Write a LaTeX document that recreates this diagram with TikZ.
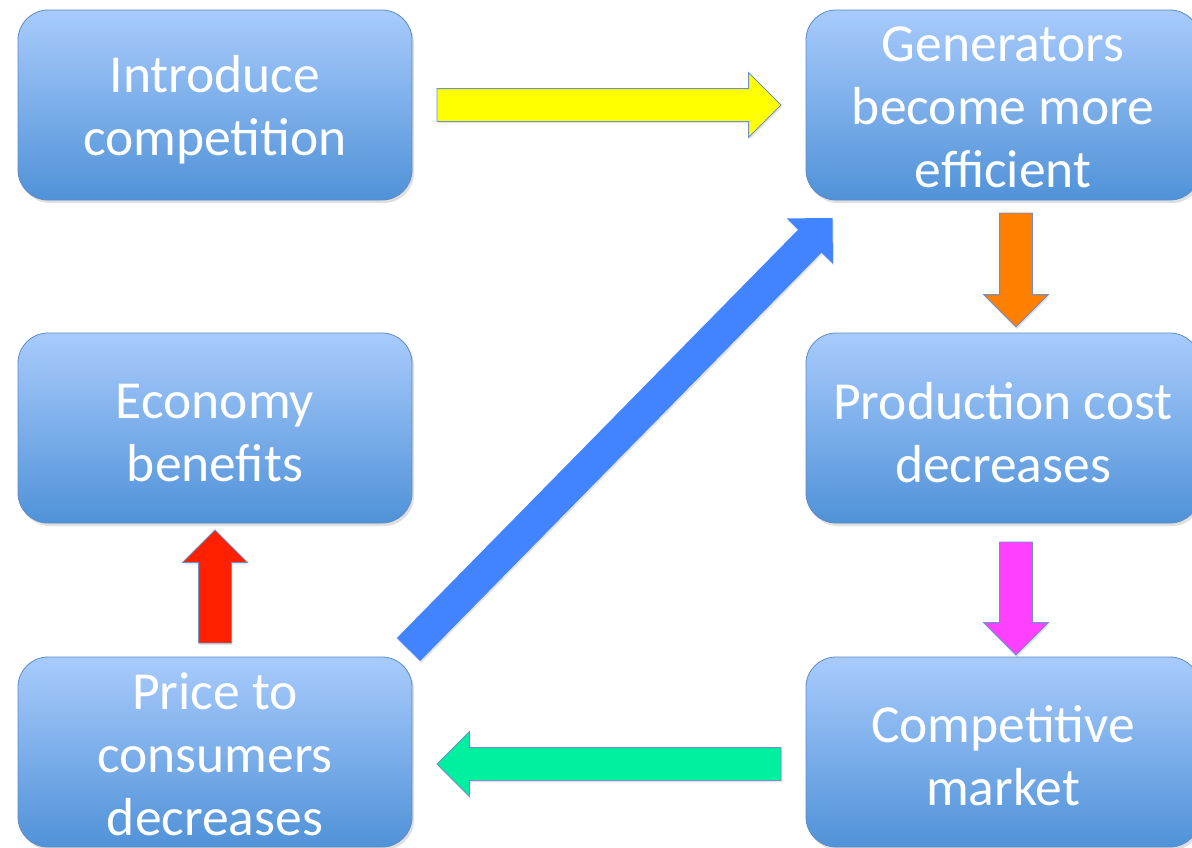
\documentclass[tikz,border=0pt]{standalone}
\usepackage{fontspec}
\setmainfont{Carlito}
\usetikzlibrary{shapes.arrows,shadows,calc}
\definecolor{boxtop}{RGB}{168,203,252}
\definecolor{boxbot}{RGB}{80,146,216}
\definecolor{boxline}{RGB}{94,139,200}
\definecolor{arrline}{RGB}{110,145,205}
\definecolor{ayellow}{RGB}{255,255,0}
\definecolor{aorange}{RGB}{255,127,0}
\definecolor{amagenta}{RGB}{255,64,255}
\definecolor{agreen}{RGB}{0,240,160}
\definecolor{ared}{RGB}{255,32,0}
\definecolor{ablue}{RGB}{66,131,255}
\begin{document}
\begin{tikzpicture}[x=1pt,y=-1pt,
  stepbox/.style={rounded corners=30pt, minimum width=394pt, minimum height=190pt,
    top color=boxtop, bottom color=boxbot, draw=boxline, line width=0.8pt,
    inner sep=0pt, outer sep=0pt,
    drop shadow={opacity=0.25, shadow xshift=2pt, shadow yshift=-3pt}},
  boxtext/.style={text=white, align=center, font=\fontsize{53.5}{63}\selectfont, inner sep=0pt},
  blockarrow/.style={single arrow, single arrow head extend=16pt, single arrow tip angle=90,
    single arrow head indent=0pt, inner xsep=0pt, inner ysep=16pt, outer sep=0pt,
    draw=arrline, line width=0.8pt, anchor=tail,
    drop shadow={opacity=0.2, shadow xshift=1pt, shadow yshift=-2pt}}
]
\useasboundingbox (0,0) rectangle (1192,847);
\clip (0,0) rectangle (1192,847);
\fill[white] (0,0) rectangle (1192,847);

\node[stepbox, label={[boxtext, yshift=-5pt]center:Introduce\\competition}] (intro) at (215,105) {};
\node[stepbox, label={[boxtext, yshift=-2pt]center:Generators\\become more\\efficient}] (gen) at (1003,105) {};
\node[stepbox, label={[boxtext, yshift=-5pt]center:Economy\\benefits}] (econ) at (215,428) {};
\node[stepbox, label={[boxtext, yshift=-5pt]center:Production cost\\decreases}] (prod) at (1003,428) {};
\node[stepbox, label={[boxtext, yshift=-2pt]center:Price to\\consumers\\decreases}] (price) at (215,752) {};
\node[stepbox, label={[boxtext, yshift=-4pt]center:Competitive\\market}] (comp) at (1003,752) {};

\node[blockarrow, fill=ayellow, minimum height=344pt] (a1) at ($(intro.east)+(25,0)$) {};
\node[blockarrow, fill=aorange, minimum height=114pt, rotate=-90] (a2) at ($(gen.south)+(13,13)$) {};
\node[blockarrow, fill=amagenta, minimum height=113pt, rotate=-90] (a3) at ($(prod.south)+(13,19)$) {};
\node[blockarrow, fill=agreen, minimum height=344pt, rotate=180] (a4) at ($(comp.west)+(-25,12)$) {};
\node[blockarrow, fill=ared, minimum height=113pt, rotate=90] (a5) at ($(price.north)+(0,-14)$) {};
\node[blockarrow, fill=ablue, draw=none, minimum height=605pt, rotate=45.5] (a6) at ($(price.north east)+(-3.5,-7.5)$) {};
\end{tikzpicture}
\end{document}
